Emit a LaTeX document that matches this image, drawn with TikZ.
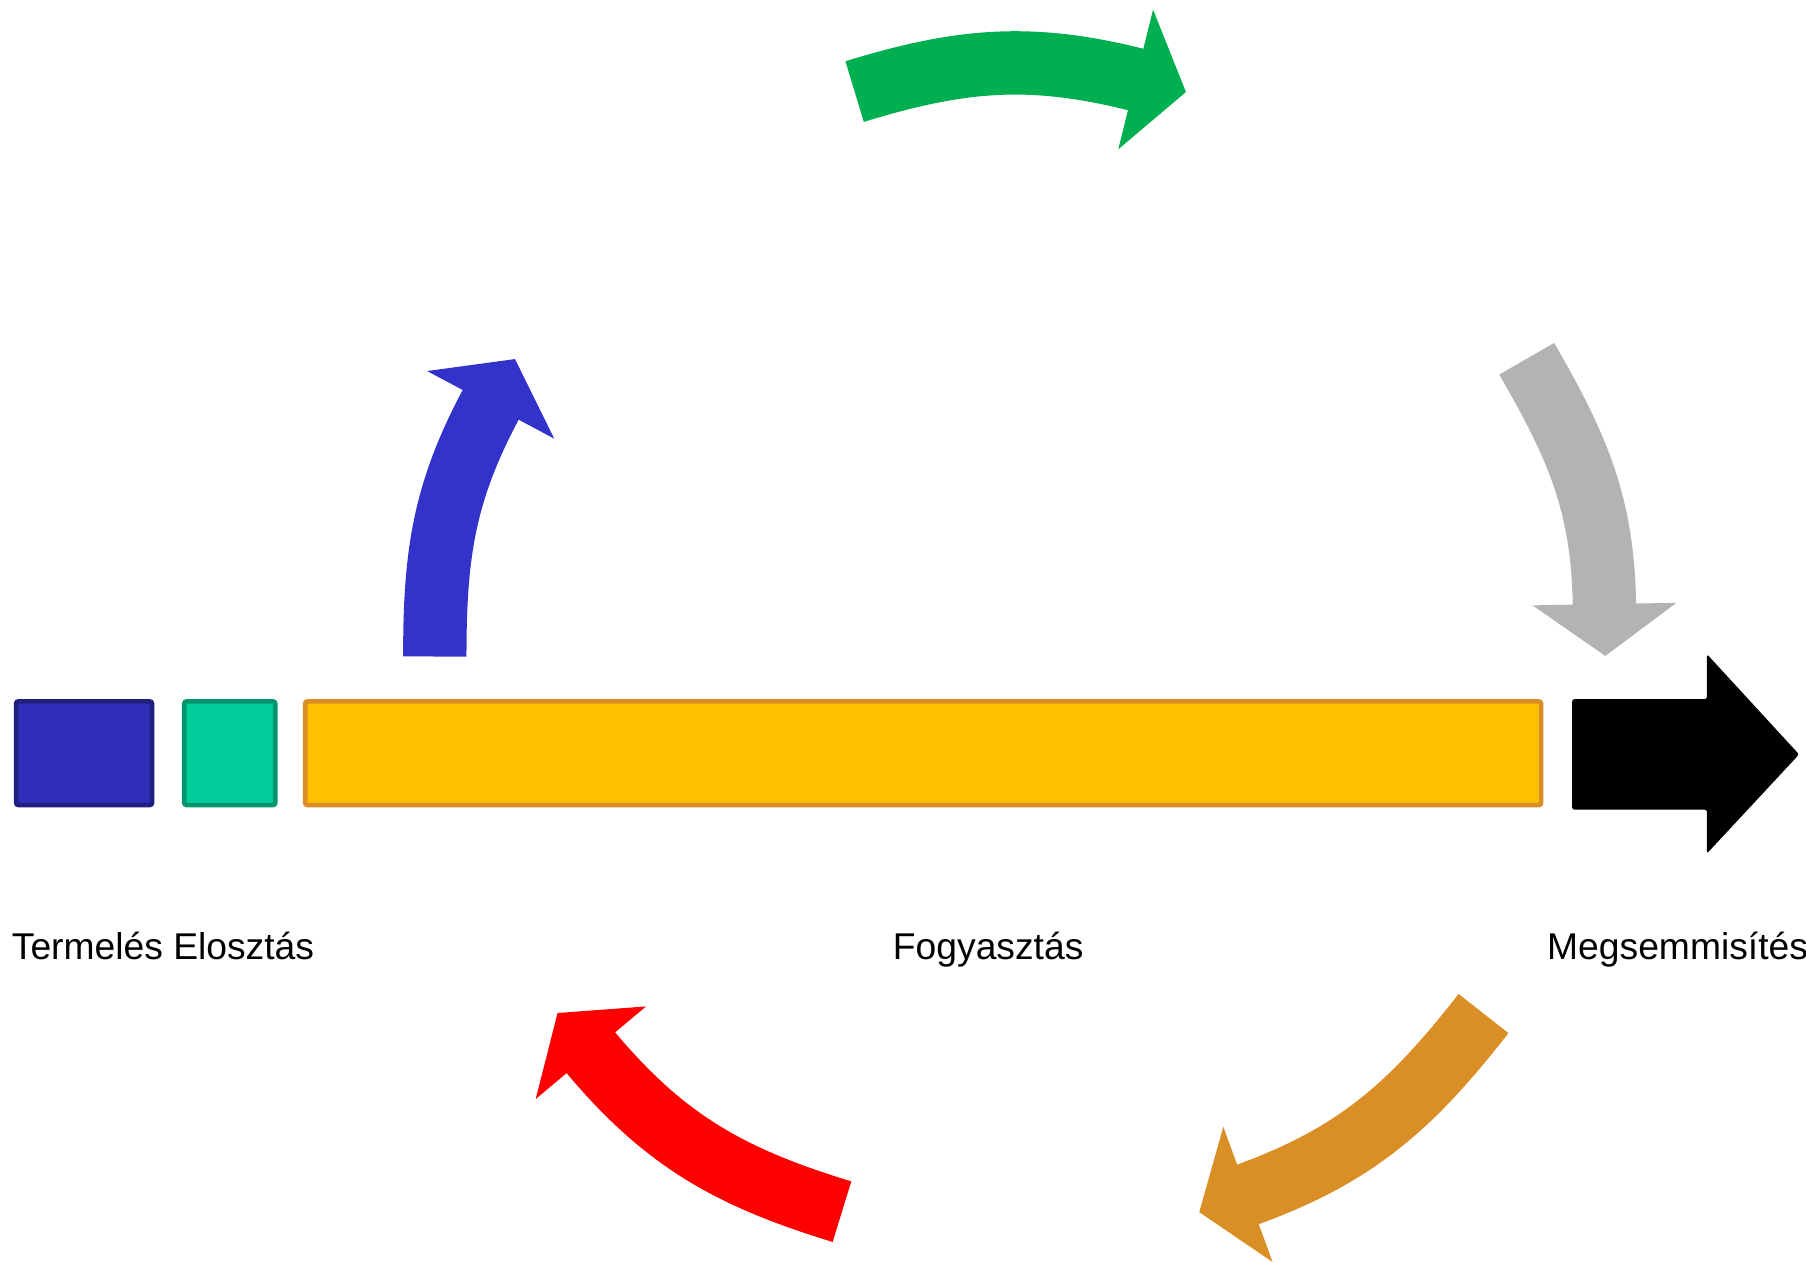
\documentclass[tikz,border=0pt]{standalone}
\usepackage{fontspec}
\setmainfont{Liberation Sans}
\usetikzlibrary{calc}
\definecolor{prodblue}{HTML}{2E2EB8}
\definecolor{prodedge}{HTML}{1F1F80}
\definecolor{distteal}{HTML}{00CC99}
\definecolor{distedge}{HTML}{00956E}
\definecolor{consyellow}{HTML}{FFC000}
\definecolor{consedge}{HTML}{DA8F26}
\definecolor{arrblue}{HTML}{3333CC}
\definecolor{arrgreen}{HTML}{00B050}
\definecolor{arrgray}{HTML}{B3B3B3}
\definecolor{arrred}{HTML}{FF0000}

\begin{document}
\begin{tikzpicture}[x=0.025cm, y=0.025cm,
    bar/.style={rectangle, line width=0.1cm, rounded corners=0.05cm, inner sep=0pt, minimum height=90*0.025cm},
    lbl/.style={anchor=base west, inner sep=0pt, font=\fontsize{23}{27}\selectfont}]
  \useasboundingbox (0,0) rectangle (1568,1096);
  % stages on the line
  \node[bar, fill=prodblue, draw=prodedge, minimum width=118*0.025cm] (termeles) at (73,442) {};
  \node[bar, fill=distteal, draw=distedge, minimum width=79*0.025cm] (elosztas) at (199.5,442) {};
  \node[bar, fill=consyellow, draw=consedge, minimum width=1073*0.025cm] (fogyasztas) at (801.5,442) {};
  \fill[rounded corners=0.05cm] (1365,393) -- (1365,489) -- (1482,489) -- (1482,528)
    -- (1562,441) -- (1482,355) -- (1482,393) -- cycle;
  % labels
  \node[lbl] (ltermeles) at (10,263) {Termelés Elosztás};
  \node[lbl] (lfogyasztas) at (775,263) {Fogyasztás};
  \node[lbl] (lmegsemmisites) at (1343,263) {Megsemmisítés};
  % the cycle of curved arrows
  \foreach \sx/\sy/\o/\bx/\by/\d/\c in {
      377.5/526/90/426/744.5/62/arrblue,
      742/1016.5/17/986/1027/-14/arrgreen,
      1325.5/784.5/-60/1393/571.5/-89/arrgray,
      1288/216/232/1083.5/59/200/consedge,
      731/44/163/513/182/130/arrred}{
    \pgfmathsetmacro\di{\d+180}
    \coordinate (tail) at (\sx,\sy);
    \coordinate (head) at (\bx,\by);
    \draw[\c, line width=1.375cm] (tail) to[out=\o, in=\di] (head) -- ($(head)+(\d:12)$);
    \fill[\c] ($(head)+(\d+90:62.5)$) -- ($(head)+(\d:45)$) -- ($(head)+(\d-90:62.5)$) -- cycle;
  }
\end{tikzpicture}
\end{document}
